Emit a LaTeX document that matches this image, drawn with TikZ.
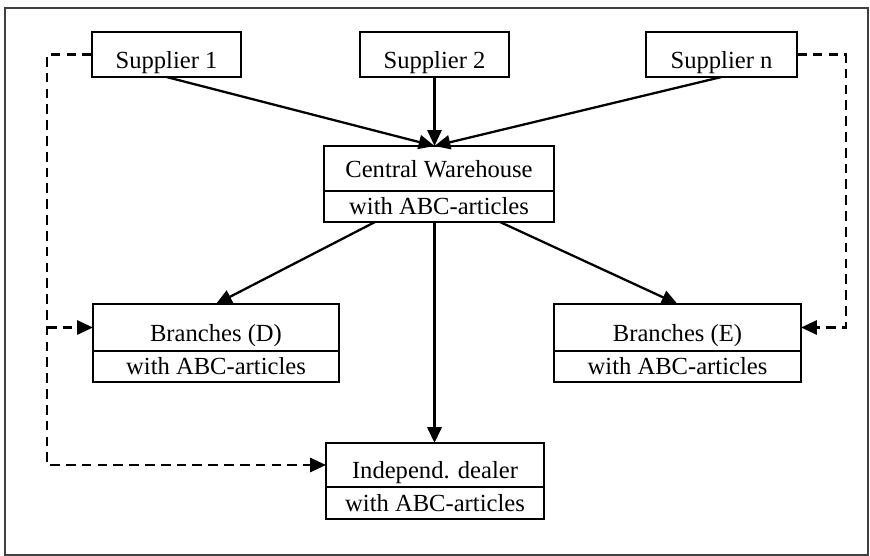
\documentclass[tikz,border=0pt]{standalone}
\usepackage{fontspec}
\setmainfont{Liberation Serif}
\usetikzlibrary{arrows.meta,positioning,calc}

\begin{document}
\begin{tikzpicture}[font=\fontsize{14}{16}\selectfont,
  box/.style={draw,line width=1pt,minimum height=0.9cm,inner sep=1pt,outer sep=0pt,text height=0.55cm,text depth=0cm},
  abc/.style={draw,line width=1pt,minimum height=0.62cm,inner sep=1pt,outer sep=0pt},
  arr/.style={-{Triangle[length=9pt,width=8pt]},line width=1.3pt},
  darr/.style={arr,line width=1.4pt,dash pattern=on 5.5pt off 3.5pt}]
\useasboundingbox (0,0) rectangle (17.4,-11.12);
\draw[line width=1pt,black!75] (0.1,-0.16) rectangle (17.36,-11.1);
% suppliers
\node[box,minimum width=2.98cm] (sup2) at (8.69,-1.09) {Supplier 2};
\node[box,minimum width=2.98cm,left=2.38cm of sup2] (sup1) {Supplier 1};
\node[box,minimum width=3.02cm,right=2.74cm of sup2] (supn) {Supplier n};
% warehouse and outlets
\node[box,minimum width=4.6cm,text height=0.38cm,below=1.38cm of sup2,xshift=0.09cm] (cw) {Central Warehouse};
\node[abc,minimum width=4.6cm,below=0pt of cw] (cwabc) {with ABC-articles};
\node[box,minimum width=4.92cm,minimum height=0.94cm,below=1.64cm of cwabc,xshift=-4.46cm] (brD) {Branches (D)};
\node[abc,minimum width=4.92cm,below=0pt of brD] (brDabc) {with ABC-articles};
\node[box,minimum width=4.94cm,minimum height=0.94cm,below=1.64cm of cwabc,xshift=4.77cm] (brE) {Branches (E)};
\node[abc,minimum width=4.94cm,below=0pt of brE] (brEabc) {with ABC-articles};
\node[box,minimum width=4.36cm,minimum height=0.88cm,below=4.42cm of cwabc,xshift=-0.08cm] (dealer) {Independ. dealer};
\node[abc,minimum width=4.36cm,minimum height=0.64cm,below=0pt of dealer] (dealerabc) {with ABC-articles};
\coordinate (hub) at (sup2.south |- cw.north);
\coordinate (lbus) at ($(sup1.west)+(-0.9,0)$);
\coordinate (rbus) at ($(supn.east)+(0.98,0)$);
\draw[arr] (sup1.south)--(hub);
\draw[arr] (sup2.south)--(hub);
\draw[arr] (supn.south)--(hub);
\draw[arr] ($(cwabc.south)+(-1.28,0)$)--(brD.north);
\draw[arr] ($(cwabc.south)+(1.22,0)$)--(brE.north);
\draw[arr,line width=1.8pt] (hub |- cwabc.south)--(hub |- dealer.north);
% direct deliveries
\draw[darr] (sup1.west)--(lbus) |- (dealer.west);
\draw[darr] (lbus |- brD.west)--(brD.west);
\draw[darr] (supn.east)--(rbus) |- (brE.east);
\end{tikzpicture}
\end{document}
